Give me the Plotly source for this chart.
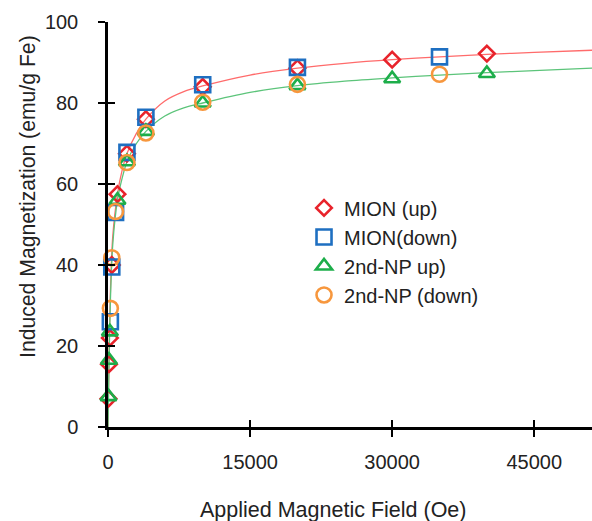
import plotly.graph_objects as go

# ---- data ----
mion_up_x = [50, 100, 200, 400, 1000, 2000, 4000, 10000, 20000, 30000, 40000]
mion_up_y = [7, 15.5, 22, 40, 57.5, 67.5, 76, 84, 88.6, 90.7, 92.2]

mion_down_x = [250, 400, 800, 2000, 4000, 10000, 20000, 35000]
mion_down_y = [26, 39.5, 53, 67.8, 76.5, 84.5, 88.8, 91.4]

np_up_x = [50, 100, 200, 1000, 2000, 4000, 10000, 20000, 30000, 40000]
np_up_y = [7.5, 16.5, 23.5, 56, 65.5, 73, 80, 84.3, 86, 87.3]

np_down_x = [250, 400, 800, 2000, 4000, 10000, 20000, 35000]
np_down_y = [29.3, 41.8, 53.2, 65.3, 72.6, 80.2, 84.6, 87.1]

fit_field = [0, 100, 250, 500, 1000, 1500, 2000, 3000, 4000, 6000, 8000, 10000,
             15000, 20000, 25000, 30000, 35000, 40000, 45000, 52000]
fit_red = [0, 16, 33, 47, 57.5, 63.5, 67.5, 72.5, 76, 80.5, 82.8, 84.2,
           86.9, 88.6, 89.8, 90.7, 91.4, 92.0, 92.5, 93.1]
fit_green = [0, 15, 31, 45, 56, 61.5, 65.5, 70, 73, 76.8, 78.8, 80.0,
             82.6, 84.3, 85.4, 86.2, 86.9, 87.5, 88.0, 88.7]

x_ticks = [0, 15000, 30000, 45000]
y_ticks = [0, 20, 40, 60, 80, 100]

series_names = ["MION (up)", "MION(down)", "2nd-NP up)", "2nd-NP (down)"]

RED = "#E8232B"
BLUE = "#1E6FC1"
GREEN = "#1DAE4A"
ORANGE = "#F7973D"
FONT = "Liberation Sans, Arial, sans-serif"
TXT = "#222222"

fig = go.Figure()

fig.add_trace(go.Scatter(x=fit_field, y=fit_red, mode="lines",
                         line=dict(color="#FF6B6B", width=1.3, shape="spline",
                                   smoothing=0.8),
                         showlegend=False, hoverinfo="skip"))
fig.add_trace(go.Scatter(x=fit_field, y=fit_green, mode="lines",
                         line=dict(color="#5CC47A", width=1.3, shape="spline",
                                   smoothing=0.8),
                         showlegend=False, hoverinfo="skip"))

def mk(x, y, name, sym, color, size):
    return go.Scatter(x=x, y=y, mode="markers", name=name, cliponaxis=False,
                      marker=dict(symbol=sym, size=size, color=color,
                                  line=dict(color=color, width=2.6)))

fig.add_trace(mk(mion_up_x, mion_up_y, series_names[0], "diamond-open", RED, 12))
fig.add_trace(mk(mion_down_x, mion_down_y, series_names[1], "square-open", BLUE, 15))
fig.add_trace(mk(np_up_x, np_up_y, series_names[2], "triangle-up-open", GREEN, 14))
fig.add_trace(mk(np_down_x, np_down_y, series_names[3], "circle-open", ORANGE, 15))

xr = [0, 51100]
yr = [0, 100]
axis_common = dict(showgrid=False, zeroline=False, ticklen=7, tickwidth=2,
                   tickcolor="black")

fig.update_layout(
    width=592, height=521,
    margin=dict(l=108, r=0, t=22, b=94),
    paper_bgcolor="white", plot_bgcolor="white",
    font=dict(family=FONT, size=20, color=TXT),
    showlegend=True,
    legend=dict(x=0.405, y=0.589, xanchor="left", yanchor="top",
                bgcolor="rgba(0,0,0,0)", font=dict(size=20, color=TXT),
                itemwidth=30, tracegroupgap=0),
    xaxis=dict(range=xr, tickvals=x_ticks, ticktext=[str(v) for v in x_ticks],
               ticks="outside", showline=True, linecolor="black", linewidth=2.5,
               ticklabelstandoff=8, **axis_common),
    yaxis=dict(range=yr, tickvals=y_ticks, ticks="outside", showline=True,
               linecolor="black", linewidth=2.5, ticklabelstandoff=16,
               **axis_common),
    xaxis2=dict(range=xr, overlaying="x", anchor="y", tickvals=x_ticks,
                ticks="inside", showticklabels=False, showline=False,
                **axis_common),
    yaxis2=dict(range=yr, overlaying="y", anchor="x", tickvals=y_ticks,
                ticks="inside", showticklabels=False, showline=False,
                **axis_common),
    annotations=[
        dict(text="Induced Magnetization (emu/g Fe)", textangle=-90,
             xref="paper", yref="paper", x=0, y=(427 - 197) / 405,
             xanchor="center", yanchor="middle", xshift=-80, showarrow=False,
             font=dict(size=21.2, color=TXT, family=FONT)),
        dict(text="Applied Magnetic Field (Oe)",
             xref="paper", yref="paper", x=(333 - 108) / 484, y=0,
             xanchor="center", yanchor="top", yshift=-69, showarrow=False,
             font=dict(size=21.5, color=TXT, family=FONT)),
    ],
)

# dummy invisible trace to activate overlay axes
fig.add_trace(go.Scatter(x=[None], y=[None], xaxis="x2", yaxis="y2",
                         showlegend=False, hoverinfo="skip"))

fig.write_html("out.html", config={"displayModeBar": False},
               post_script="document.body.style.margin='0';"
                           "document.body.style.padding='0';")
